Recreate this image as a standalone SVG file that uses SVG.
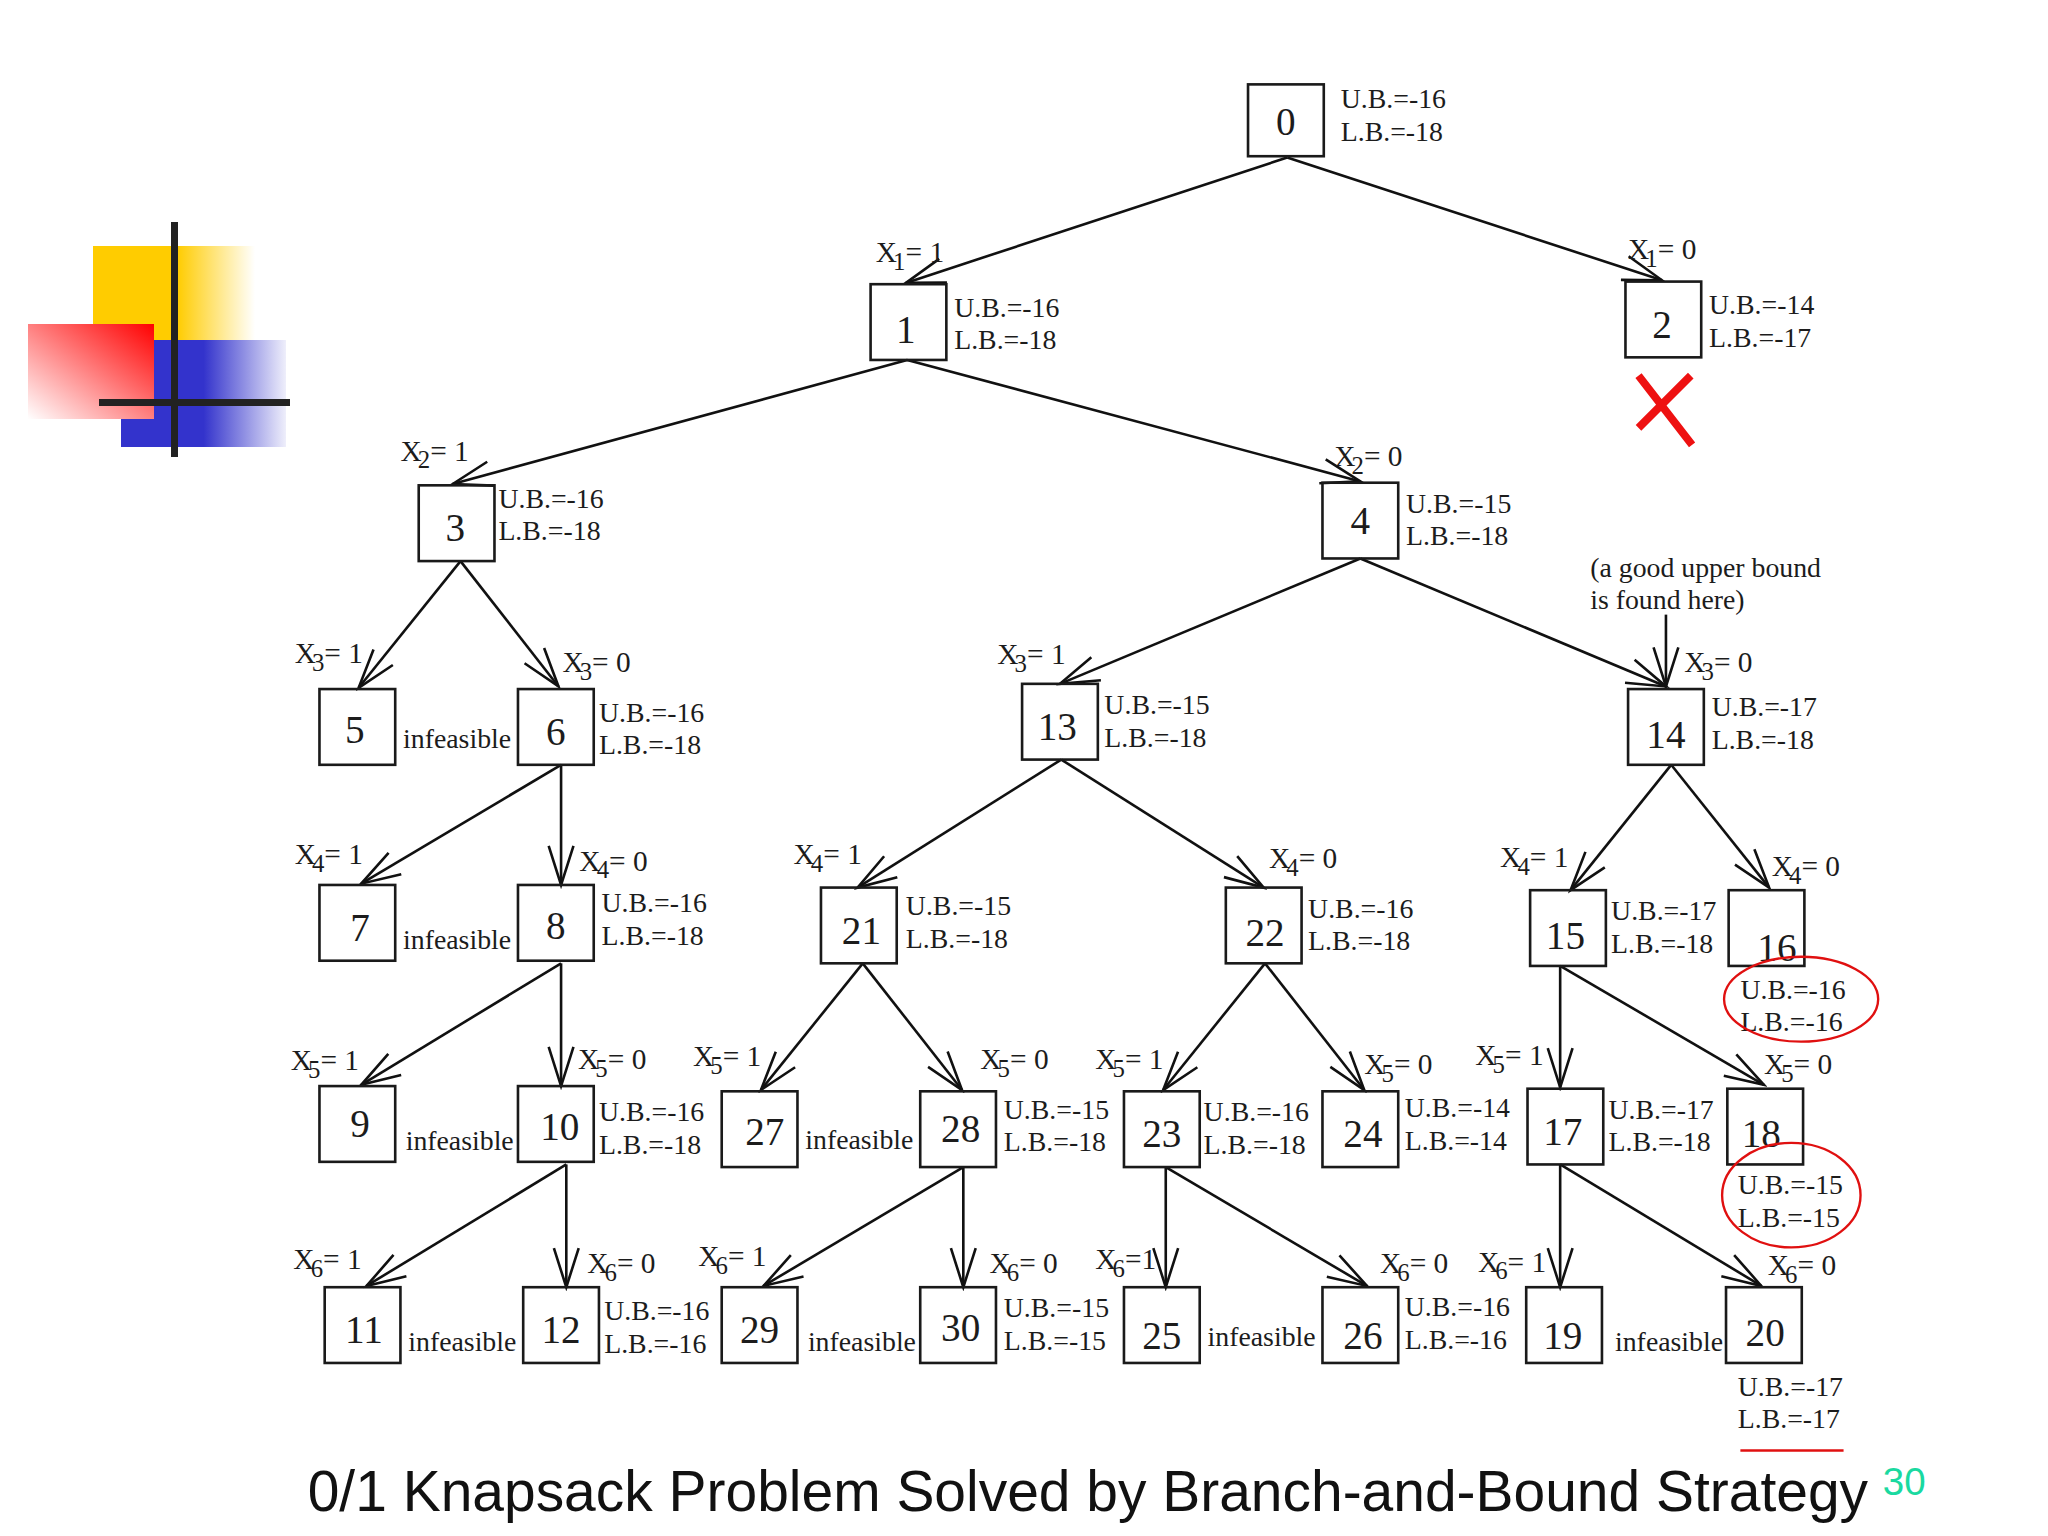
<svg xmlns="http://www.w3.org/2000/svg" width="2048" height="1536" viewBox="0 0 2048 1536">
<style>
text{font-family:"Liberation Serif","Times New Roman",serif;fill:#1c1c1c}
.box{fill:none;stroke:#1a1a1a;stroke-width:2}
.n{font-size:30px;text-anchor:middle}
.b{font-size:21.3px}
.l{font-size:22.5px}
.s{font-size:19px}
.e{stroke:#111;stroke-width:2;fill:none;marker-end:url(#a)}
.r{fill:none;stroke:#e01010;stroke-width:1.8}
.t{font-family:"Liberation Sans",Arial,sans-serif;font-size:43.6px;fill:#111}
</style>
<defs>
<marker id="a" markerUnits="userSpaceOnUse" markerWidth="34" markerHeight="24" refX="31" refY="12" orient="auto"><path d="M1,2.5L31,12L1,21.5" fill="none" stroke="#111" stroke-width="2"/></marker>
<linearGradient id="yf" x1="0" x2="1" y1="0" y2="0"><stop offset="0.52" stop-color="#ffcc00"/><stop offset="1" stop-color="#ffcc00" stop-opacity="0"/></linearGradient>
<linearGradient id="bf" x1="0" x2="1" y1="0" y2="0"><stop offset="0.5" stop-color="#3333cc"/><stop offset="1" stop-color="#3333cc" stop-opacity="0.08"/></linearGradient>
<linearGradient id="rf" x1="1" x2="0" y1="0" y2="1"><stop offset="0" stop-color="#ff0000"/><stop offset="1" stop-color="#ffffff"/></linearGradient>
</defs>
<g id="logo">
<rect x="93" y="246" width="162" height="94" fill="url(#yf)"/>
<rect x="121" y="340" width="165" height="107" fill="url(#bf)"/>
<rect x="28" y="324" width="126" height="95" fill="url(#rf)"/>
<rect x="171" y="222" width="7" height="235" fill="#222"/>
<rect x="99" y="399" width="191" height="7" fill="#222"/>
</g>
<g transform="translate(0.8 0.8) scale(1.306)">
<g id="connectors">
<path class="e" d="M985,120L693,216"/>
<path class="e" d="M985,120L1272,214"/>
<path class="e" d="M694,275L346,370"/>
<path class="e" d="M694,275L1041,368"/>
<path class="e" d="M352,429L274,526"/>
<path class="e" d="M352,429L427,525"/>
<path class="e" d="M429,585L276,676"/>
<path class="e" d="M429,585L429,677"/>
<path class="e" d="M429,737L276,830"/>
<path class="e" d="M429,737L429,831"/>
<path class="e" d="M433,891L280,984"/>
<path class="e" d="M433,891L433,985"/>
<path class="e" d="M1041,427L811,523"/>
<path class="e" d="M1041,427L1275,525"/>
<path class="e" d="M1275,470L1275,525"/>
<path class="e" d="M812,581L656,679"/>
<path class="e" d="M812,581L967,679"/>
<path class="e" d="M1279,585L1202,681"/>
<path class="e" d="M1279,585L1354,679"/>
<path class="e" d="M660,737L582,834"/>
<path class="e" d="M660,737L736,834"/>
<path class="e" d="M968,737L890,834"/>
<path class="e" d="M968,737L1044,834"/>
<path class="e" d="M1194,739L1194,832"/>
<path class="e" d="M1194,739L1350,830"/>
<path class="e" d="M737,893L584,984"/>
<path class="e" d="M737,893L737,985"/>
<path class="e" d="M892,893L892,985"/>
<path class="e" d="M892,893L1046,984"/>
<path class="e" d="M1194,891L1194,985"/>
<path class="e" d="M1194,891L1348,984"/>
</g>
<g id="edge-labels" class="l">
<text x="670" y="200">X<tspan class="s" dx="-3" dy="6">1</tspan><tspan dy="-6">= 1</tspan></text>
<text x="1246" y="198">X<tspan class="s" dx="-3" dy="6">1</tspan><tspan dy="-6">= 0</tspan></text>
<text x="306" y="352">X<tspan class="s" dx="-3" dy="6">2</tspan><tspan dy="-6">= 1</tspan></text>
<text x="1021" y="356">X<tspan class="s" dx="-3" dy="6">2</tspan><tspan dy="-6">= 0</tspan></text>
<text x="225" y="507">X<tspan class="s" dx="-3" dy="6">3</tspan><tspan dy="-6">= 1</tspan></text>
<text x="430" y="514">X<tspan class="s" dx="-3" dy="6">3</tspan><tspan dy="-6">= 0</tspan></text>
<text x="763" y="508">X<tspan class="s" dx="-3" dy="6">3</tspan><tspan dy="-6">= 1</tspan></text>
<text x="1289" y="514">X<tspan class="s" dx="-3" dy="6">3</tspan><tspan dy="-6">= 0</tspan></text>
<text x="225" y="661">X<tspan class="s" dx="-3" dy="6">4</tspan><tspan dy="-6">= 1</tspan></text>
<text x="443" y="666">X<tspan class="s" dx="-3" dy="6">4</tspan><tspan dy="-6">= 0</tspan></text>
<text x="607" y="661">X<tspan class="s" dx="-3" dy="6">4</tspan><tspan dy="-6">= 1</tspan></text>
<text x="971" y="664">X<tspan class="s" dx="-3" dy="6">4</tspan><tspan dy="-6">= 0</tspan></text>
<text x="1148" y="663">X<tspan class="s" dx="-3" dy="6">4</tspan><tspan dy="-6">= 1</tspan></text>
<text x="1356" y="670">X<tspan class="s" dx="-3" dy="6">4</tspan><tspan dy="-6">= 0</tspan></text>
<text x="222" y="819">X<tspan class="s" dx="-3" dy="6">5</tspan><tspan dy="-6">= 1</tspan></text>
<text x="442" y="818">X<tspan class="s" dx="-3" dy="6">5</tspan><tspan dy="-6">= 0</tspan></text>
<text x="530" y="816">X<tspan class="s" dx="-3" dy="6">5</tspan><tspan dy="-6">= 1</tspan></text>
<text x="750" y="818">X<tspan class="s" dx="-3" dy="6">5</tspan><tspan dy="-6">= 0</tspan></text>
<text x="838" y="818">X<tspan class="s" dx="-3" dy="6">5</tspan><tspan dy="-6">= 1</tspan></text>
<text x="1044" y="822">X<tspan class="s" dx="-3" dy="6">5</tspan><tspan dy="-6">= 0</tspan></text>
<text x="1129" y="815">X<tspan class="s" dx="-3" dy="6">5</tspan><tspan dy="-6">= 1</tspan></text>
<text x="1350" y="822">X<tspan class="s" dx="-3" dy="6">5</tspan><tspan dy="-6">= 0</tspan></text>
<text x="224" y="971">X<tspan class="s" dx="-3" dy="6">6</tspan><tspan dy="-6">= 1</tspan></text>
<text x="449" y="974">X<tspan class="s" dx="-3" dy="6">6</tspan><tspan dy="-6">= 0</tspan></text>
<text x="534" y="969">X<tspan class="s" dx="-3" dy="6">6</tspan><tspan dy="-6">= 1</tspan></text>
<text x="757" y="974">X<tspan class="s" dx="-3" dy="6">6</tspan><tspan dy="-6">= 0</tspan></text>
<text x="838" y="971">X<tspan class="s" dx="-3" dy="6">6</tspan><tspan dy="-6">=1</tspan></text>
<text x="1056" y="974">X<tspan class="s" dx="-3" dy="6">6</tspan><tspan dy="-6">= 0</tspan></text>
<text x="1131" y="973">X<tspan class="s" dx="-3" dy="6">6</tspan><tspan dy="-6">= 1</tspan></text>
<text x="1353" y="976">X<tspan class="s" dx="-3" dy="6">6</tspan><tspan dy="-6">= 0</tspan></text>
</g>
<g id="n0"><rect class="box" x="955" y="64" width="58" height="55"/><text class="n" x="984" y="103">0</text><text class="b" x="1026" y="82">U.B.=-16</text><text class="b" x="1026" y="107">L.B.=-18</text></g>
<g id="n1"><rect class="box" x="666" y="217" width="58" height="58"/><text class="n" x="693" y="262">1</text><text class="b" x="730" y="242">U.B.=-16</text><text class="b" x="730" y="267">L.B.=-18</text></g>
<g id="n2"><rect class="box" x="1244" y="215" width="58" height="58"/><text class="n" x="1272" y="258">2</text><text class="b" x="1308" y="240">U.B.=-14</text><text class="b" x="1308" y="265">L.B.=-17</text></g>
<g id="n3"><rect class="box" x="320" y="371" width="58" height="58"/><text class="n" x="348" y="414">3</text><text class="b" x="381" y="388">U.B.=-16</text><text class="b" x="381" y="413">L.B.=-18</text></g>
<g id="n4"><rect class="box" x="1012" y="369" width="58" height="58"/><text class="n" x="1041" y="408">4</text><text class="b" x="1076" y="392">U.B.=-15</text><text class="b" x="1076" y="417">L.B.=-18</text></g>
<g id="n5"><rect class="box" x="244" y="527" width="58" height="58"/><text class="n" x="271" y="568">5</text><text class="b" x="308" y="572">infeasible</text></g>
<g id="n6"><rect class="box" x="396" y="527" width="58" height="58"/><text class="n" x="425" y="570">6</text><text class="b" x="458" y="552">U.B.=-16</text><text class="b" x="458" y="577">L.B.=-18</text></g>
<g id="n7"><rect class="box" x="244" y="677" width="58" height="58"/><text class="n" x="275" y="720">7</text><text class="b" x="308" y="726">infeasible</text></g>
<g id="n8"><rect class="box" x="396" y="677" width="58" height="58"/><text class="n" x="425" y="718">8</text><text class="b" x="460" y="698">U.B.=-16</text><text class="b" x="460" y="723">L.B.=-18</text></g>
<g id="n9"><rect class="box" x="244" y="831" width="58" height="58"/><text class="n" x="275" y="870">9</text><text class="b" x="310" y="880">infeasible</text></g>
<g id="n10"><rect class="box" x="396" y="831" width="58" height="58"/><text class="n" x="428" y="872">10</text><text class="b" x="458" y="858">U.B.=-16</text><text class="b" x="458" y="883">L.B.=-18</text></g>
<g id="n11"><rect class="box" x="248" y="985" width="58" height="58"/><text class="n" x="278" y="1028">11</text><text class="b" x="312" y="1034">infeasible</text></g>
<g id="n12"><rect class="box" x="400" y="985" width="58" height="58"/><text class="n" x="429" y="1028">12</text><text class="b" x="462" y="1010">U.B.=-16</text><text class="b" x="462" y="1035">L.B.=-16</text></g>
<g id="n13"><rect class="box" x="782" y="523" width="58" height="58"/><text class="n" x="809" y="566">13</text><text class="b" x="845" y="546">U.B.=-15</text><text class="b" x="845" y="571">L.B.=-18</text></g>
<g id="n14"><rect class="box" x="1246" y="527" width="58" height="58"/><text class="n" x="1275" y="572">14</text><text class="b" x="1310" y="548">U.B.=-17</text><text class="b" x="1310" y="573">L.B.=-18</text></g>
<g id="n15"><rect class="box" x="1171" y="681" width="58" height="58"/><text class="n" x="1198" y="726">15</text><text class="b" x="1233" y="704">U.B.=-17</text><text class="b" x="1233" y="729">L.B.=-18</text></g>
<g id="n16"><rect class="box" x="1323" y="681" width="58" height="58"/><text class="n" x="1360" y="735">16</text><text class="b" x="1332" y="764">U.B.=-16</text><text class="b" x="1332" y="789">L.B.=-16</text></g>
<g id="n17"><rect class="box" x="1169" y="833" width="58" height="58"/><text class="n" x="1196" y="876">17</text><text class="b" x="1231" y="856">U.B.=-17</text><text class="b" x="1231" y="881">L.B.=-18</text></g>
<g id="n18"><rect class="box" x="1322" y="833" width="58" height="58"/><text class="n" x="1348" y="878">18</text><text class="b" x="1330" y="914">U.B.=-15</text><text class="b" x="1330" y="939">L.B.=-15</text></g>
<g id="n19"><rect class="box" x="1168" y="985" width="58" height="58"/><text class="n" x="1196" y="1032">19</text><text class="b" x="1236" y="1034">infeasible</text></g>
<g id="n20"><rect class="box" x="1321" y="985" width="58" height="58"/><text class="n" x="1351" y="1030">20</text><text class="b" x="1330" y="1068">U.B.=-17</text><text class="b" x="1330" y="1093">L.B.=-17</text></g>
<g id="n21"><rect class="box" x="628" y="679" width="58" height="58"/><text class="n" x="659" y="722">21</text><text class="b" x="693" y="700">U.B.=-15</text><text class="b" x="693" y="725">L.B.=-18</text></g>
<g id="n22"><rect class="box" x="938" y="679" width="58" height="58"/><text class="n" x="968" y="724">22</text><text class="b" x="1001" y="702">U.B.=-16</text><text class="b" x="1001" y="727">L.B.=-18</text></g>
<g id="n23"><rect class="box" x="860" y="835" width="58" height="58"/><text class="n" x="889" y="878">23</text><text class="b" x="921" y="858">U.B.=-16</text><text class="b" x="921" y="883">L.B.=-18</text></g>
<g id="n24"><rect class="box" x="1012" y="835" width="58" height="58"/><text class="n" x="1043" y="878">24</text><text class="b" x="1075" y="855">U.B.=-14</text><text class="b" x="1075" y="880">L.B.=-14</text></g>
<g id="n25"><rect class="box" x="860" y="985" width="58" height="58"/><text class="n" x="889" y="1032">25</text><text class="b" x="924" y="1030">infeasible</text></g>
<g id="n26"><rect class="box" x="1012" y="985" width="58" height="58"/><text class="n" x="1043" y="1032">26</text><text class="b" x="1075" y="1007">U.B.=-16</text><text class="b" x="1075" y="1032">L.B.=-16</text></g>
<g id="n27"><rect class="box" x="552" y="835" width="58" height="58"/><text class="n" x="585" y="876">27</text><text class="b" x="616" y="879">infeasible</text></g>
<g id="n28"><rect class="box" x="704" y="835" width="58" height="58"/><text class="n" x="735" y="874">28</text><text class="b" x="768" y="856">U.B.=-15</text><text class="b" x="768" y="881">L.B.=-18</text></g>
<g id="n29"><rect class="box" x="552" y="985" width="58" height="58"/><text class="n" x="581" y="1028">29</text><text class="b" x="618" y="1034">infeasible</text></g>
<g id="n30"><rect class="box" x="704" y="985" width="58" height="58"/><text class="n" x="735" y="1026">30</text><text class="b" x="768" y="1008">U.B.=-15</text><text class="b" x="768" y="1033">L.B.=-15</text></g>
<g id="notes">
<text class="b" x="1217" y="441">(a good upper bound</text>
<text class="b" x="1217" y="466">is found here)</text>
<ellipse class="r" cx="1378.5" cy="764.5" rx="59" ry="32.5"/>
<ellipse class="r" cx="1371" cy="914.5" rx="53" ry="40"/>
<path class="r" d="M1332,1110H1411"/>
<path d="M1254,287L1295,340M1294,287L1254,327" fill="none" stroke="#ee1111" stroke-width="6"/>
</g>
<g id="footer">
<text class="t" x="235" y="1156">0/1 Knapsack Problem Solved by Branch-and-Bound Strategy</text>
<text x="1441" y="1144" style="font-family:'Liberation Sans',Arial,sans-serif;font-size:29.5px;fill:#1ad9a0">30</text>
</g>
</g>
</svg>
